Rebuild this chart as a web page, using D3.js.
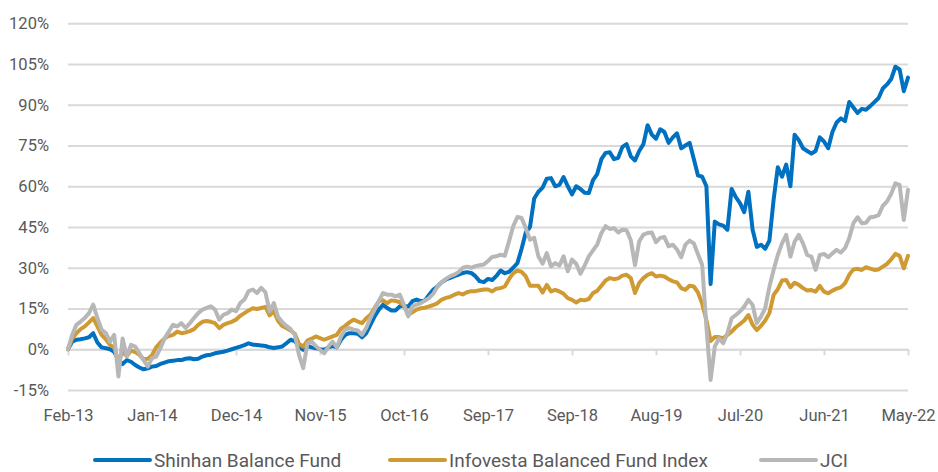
<!DOCTYPE html>
<html>
<head>
<meta charset="utf-8">
<script src="https://cdn.jsdelivr.net/npm/d3@7"></script>
<style>
  html, body { margin: 0; padding: 0; background: #ffffff; }
  svg { display: block; }
  text { font-family: Roboto, "Open Sans", sans-serif; fill: #595959; }
</style>
</head>
<body>
<svg id="chart" width="938" height="472"></svg>
<script>
// ---- data (cumulative return, %) sampled along the category axis ----
const tickLabels = ["Feb-13","Jan-14","Dec-14","Nov-15","Oct-16","Sep-17","Sep-18","Aug-19","Jul-20","Jun-21","May-22"];
const yTicks = [-15, 0, 15, 30, 45, 60, 75, 90, 105, 120];
const seriesNames = ["Shinhan Balance Fund", "Infovesta Balanced Fund Index", "JCI"];

const shinhan = [
  0, 2.8, 3.5, 3.7, 4, 4.4, 5.9, 2.5, 0.7, 0.4, 0, -0.9, -4, -5.4, -4, -4.6, -5.8, -6.7, -7.4, -7, -6.4, -6.2, -5.4, -4.9, -4.4, -4.2, -4, -4, -3.5, -3.3, -3.7, -3.5, -2.7, -2.2, -2, -1.5, -1.2, -0.9, -0.5, 0, 0.5, 1, 1.5, 2.2, 1.7, 1.6, 1.4, 1.2, 0.7, 0.5, 0.7,
  1, 2.2, 3.5, 3, 1, -0.2, 1.2, 0.7, 0.4, 0, -0.2, 0.7, 1.2, 0.7, 3.5, 5.3, 5.9, 5.9, 5.7, 4.4, 5.9, 9, 12.1, 14.6, 16.4, 15.2, 14.3, 14.3, 15.8, 16, 15.7, 17.7, 18.3, 17.7, 18, 20.1, 22, 23.2, 24.7, 25.7, 26.3, 26.9, 27.5, 28.1, 28.4, 28.1, 26.9, 25.1, 24.7, 25.9,
  25.5, 27, 29, 28, 28.5, 30, 31.7, 37, 43, 45, 55.5, 58, 59.5, 62.8, 63, 60, 60.5, 63.4, 60, 57, 60, 59, 57.6, 57.5, 62.3, 64.5, 70, 72.3, 72.5, 70, 70.5, 74.5, 75.5, 71, 69.5, 73, 75.5, 82.5, 79, 77.5, 81, 80, 76, 78, 79.5, 74, 75, 76, 70, 64,
  63.5, 60, 24, 47, 46, 45.5, 44, 59, 56, 53.8, 50.5, 58, 44, 37.7, 38.5, 37, 40, 55, 67, 63.5, 68, 60, 79, 77, 74, 73, 72, 73, 78, 76.5, 74, 80, 83.5, 85, 84, 91, 89, 87, 88.5, 88.2, 89.5, 91, 92.5, 96, 97.5, 99.5, 104, 103, 95, 100
];
const infovesta = [
  0, 4, 5.9, 7.4, 8.4, 9.9, 11.5, 8.4, 5.3, 3.7, 1.6, 0.7, -4.6, -0.9, -2.5, -0.5, -1, -2.1, -3.7, -3.5, -2.2, 0.7, 2.5, 4, 4.9, 5.3, 6.5, 5.9, 6.2, 6.7, 7.4, 9, 10.1, 10.4, 10.1, 9.6, 7.8, 9, 9.6, 10.1, 10.9, 12.3, 13.3, 14.3, 15.1, 14.8, 15.2, 15.6, 12.5, 14, 10.5,
  8.6, 7.8, 6.9, 5.7, 2, 1, 3.2, 3.9, 4.7, 4.1, 3.5, 4.1, 4.7, 5.3, 7.6, 8.6, 9.9, 10.9, 10.2, 9.6, 11.4, 12.7, 15.2, 17.7, 18, 17, 18, 17.8, 17.3, 16, 12.7, 13.6, 14.6, 15.1, 15.3, 15.8, 16.3, 17, 18.3, 18.9, 19.3, 20.1, 20.7, 20.2, 21, 21.4, 21.4, 21.7, 22, 22,
  21.3, 22.3, 22.5, 23.1, 25.8, 28, 29, 28.5, 26.8, 23.4, 23.4, 23.4, 20.9, 23.7, 21.3, 21.9, 21.3, 20.4, 18.8, 18.2, 17.2, 18.2, 18, 18.5, 20.7, 21.5, 23.4, 25.3, 26.2, 25.8, 26.1, 27.1, 27.4, 26.2, 20.7, 24.4, 26.2, 27.4, 28, 26.8, 27.1, 26.8, 25.8, 25, 24.6, 22.5, 21.9, 23.4, 23.1, 20.9,
  16.7, 10.8, 3, 4.5, 4.5, 4, 5.3, 6.5, 8.1, 9.3, 10.6, 12.6, 9, 7.1, 8.6, 10.6, 13.3, 20, 22.1, 25.3, 25.5, 22.8, 24.5, 23.7, 22.5, 21.6, 21.8, 21.2, 23.3, 21.2, 20.6, 21.6, 22.3, 22.8, 24.3, 27.4, 29.4, 29.6, 29.2, 30.2, 29.7, 29.2, 29.4, 30.4, 31.4, 33.1, 35.1, 34.4, 29.8, 34.4
];
const jci = [
  0, 5.3, 9, 10.2, 11.5, 13.3, 16.4, 11.5, 7.2, 6, 2.8, 5.3, -10, 4, -2.7, 1.6, 1, -1.5, -4, -6.4, -3.3, -2.7, 0.4, 4, 6.5, 9, 8.4, 9.6, 7.8, 9.6, 11.5, 13.3, 14.6, 15.2, 15.8, 14.6, 10.9, 12.7, 13.3, 14.6, 14, 17, 18.3, 21.4, 22, 20.7, 22.6, 21, 14, 17, 12,
  10, 8.6, 7.4, 5.3, -2.1, -7, 2.2, 2.8, 1.2, -0.2, -1.5, 1, 2.8, 0.7, 4.7, 7.2, 7.8, 7.2, 6.9, 5.3, 7.8, 11.5, 14.6, 17.7, 20.7, 20.1, 20.1, 19.5, 20.1, 16.4, 12.1, 15.8, 16.4, 17, 18, 18.9, 20.5, 23.2, 24.7, 25.9, 26.9, 27.5, 28.4, 30, 30.4, 30, 30.6, 30.9, 31.2, 32.5,
  34, 34.2, 34.8, 34.4, 39.7, 45.3, 48.7, 48.3, 44.6, 40.3, 41, 34.2, 31.5, 35.4, 30.5, 31.7, 30.8, 34.2, 28.7, 33, 31.5, 27.8, 30.8, 34.2, 36.4, 38.5, 42.8, 45.3, 44.3, 44.6, 43, 44, 43.8, 40.1, 31, 39.7, 42.2, 42.8, 43, 39.4, 41, 41.3, 37.9, 38.5, 36.7, 33.9, 38.5, 40, 39, 35,
  31, 8.3, -11.3, 1, 4, 2.2, 5.9, 11.4, 12.6, 13.9, 15.7, 18.2, 16.3, 9.6, 12, 15.1, 23, 29.2, 34.7, 39, 42.1, 34.1, 39.6, 42.1, 39, 34.7, 34.1, 29.2, 34.7, 35.1, 33.9, 35.3, 36.6, 35.6, 37.2, 40.9, 46.4, 48.6, 46.4, 46.6, 48.6, 48.8, 49.4, 52.8, 54.4, 57.2, 61.1, 60.5, 47.6, 58.7
];

// ---- layout ----
const colors = ["#0070C0", "#D09A33", "#B7B7B7"];
const plot = { left: 68, right: 908, top: 23.3, bottom: 390 };
const svg = d3.select("#chart");
svg.append("rect").attr("width", 938).attr("height", 472).attr("fill", "#ffffff");

const n = shinhan.length;
const x = d3.scaleLinear().domain([0, n - 1]).range([plot.left, plot.right]);
const y = d3.scaleLinear().domain([-15, 120]).range([plot.bottom, plot.top]);
const labelStep = (n - 1) / (tickLabels.length - 1);

// y axis with gridlines
const yAxis = d3.axisLeft(y)
  .tickValues(yTicks)
  .tickFormat(d => d + "%")
  .tickSizeInner(-(plot.right - plot.left))
  .tickSizeOuter(0)
  .tickPadding(19);
const gy = svg.append("g").attr("transform", `translate(${plot.left},0)`).call(yAxis);
gy.select(".domain").remove();
gy.selectAll(".tick line").attr("stroke", "#d9d9d9").attr("stroke-width", 2);
gy.selectAll(".tick text").style("font-size", "16.5px").attr("fill", "#595959").attr("font-family", "Roboto, sans-serif");

// x axis on the 0% line
const xAxis = d3.axisBottom(x)
  .tickValues(d3.range(tickLabels.length).map(k => k * labelStep))
  .tickFormat((d, k) => tickLabels[k])
  .tickSizeInner(6)
  .tickSizeOuter(0)
  .tickPadding(54);
const gx = svg.append("g").attr("transform", `translate(0,${y(0)})`).call(xAxis);
gx.select(".domain").attr("stroke", "#d9d9d9").attr("stroke-width", 2);
gx.selectAll(".tick line").attr("stroke", "#d9d9d9").attr("stroke-width", 2);
gx.selectAll(".tick text").style("font-size", "16.5px").attr("fill", "#595959").attr("font-family", "Roboto, sans-serif");

// lines
const series = [shinhan, infovesta, jci];
const line = d3.line().x((d, i) => x(i)).y(d => y(d)).curve(d3.curveLinear);
series.forEach((s, k) => {
  svg.append("path")
    .datum(s)
    .attr("fill", "none")
    .attr("stroke", colors[k])
    .attr("stroke-width", 4)
    .attr("stroke-linejoin", "round")
    .attr("stroke-linecap", "round")
    .attr("d", line);
});

// legend
const legendX = [95, 390, 761];
const lg = svg.append("g");
seriesNames.forEach((name, k) => {
  const g = lg.append("g").attr("transform", `translate(${legendX[k]},460)`);
  g.append("line").attr("x1", 0).attr("x2", 55).attr("y1", 0).attr("y2", 0)
    .attr("stroke", colors[k]).attr("stroke-width", 4).attr("stroke-linecap", "round");
  g.append("text").attr("x", 59).attr("y", 0).attr("dy", "0.35em")
    .style("font-size", "19px").attr("fill", "#595959").text(name);
});
</script>
</body>
</html>
